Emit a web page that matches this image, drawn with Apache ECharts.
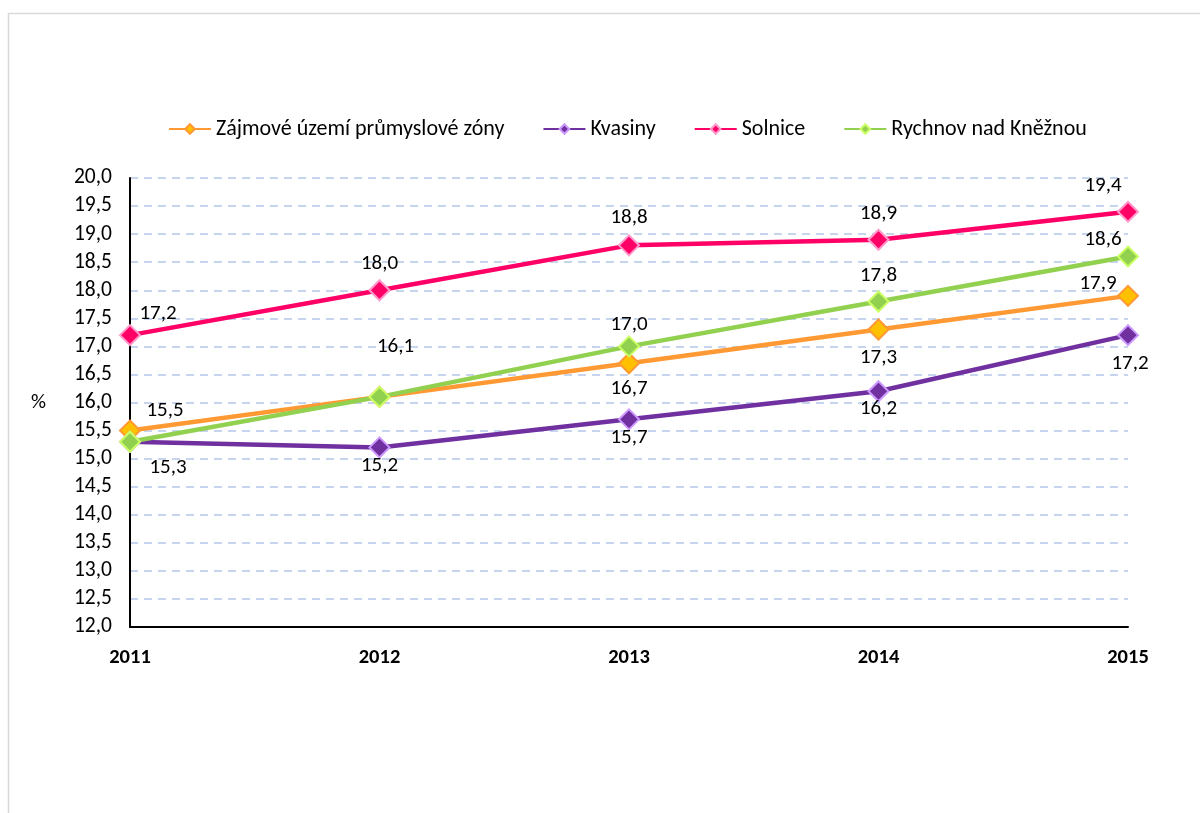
<!DOCTYPE html>
<html>
<head>
<meta charset="utf-8">
<script src="https://cdn.jsdelivr.net/npm/echarts@6/dist/echarts.min.js"></script>
<style>
html, body { margin: 0; padding: 0; background: #fff; }
#chart { width: 1200px; height: 813px; }
</style>
</head>
<body>
<div id="chart"></div>
<script>
let years = ['2011', '2012', '2013', '2014', '2015']
let zona = [15.5, 16.1, 16.7, 17.3, 17.9]
let kvasiny = [15.3, 15.2, 15.7, 16.2, 17.2]
let solnice = [17.2, 18.0, 18.8, 18.9, 19.4]
let rychnov = [15.3, 16.1, 17.0, 17.8, 18.6]

// label placement per point: [show, dx, dy]
let zonaLbl = [[true, 35, -20], [false], [true, 0, 26], [true, 0, 28], [true, -30, -12]]
let kvasinyLbl = [[true, 38, 26], [true, 0, 18], [true, 0, 18], [true, 0, 17], [true, 2, 29]]
let solniceLbl = [[true, 28, -21], [true, 0, -27], [true, 0, -28], [true, 0, -26], [true, -25, -26]]
let rychnovLbl = [[false], [true, 16, -50], [true, 0, -22], [true, 0, -26], [true, -25, -17]]

let font = 'Carlito, Lato, "Liberation Sans", sans-serif'

function makeData(vals, lbls) {
    return vals.map(function (v, i) {
        let l = lbls[i]
        return {
            value: v,
            label: l[0] ? {show: true, position: 'inside', offset: [l[1], l[2]]} : {show: false}
        }
    })
}

function makeSeries(name, vals, lbls, line, fill, border) {
    return {
        name: name,
        type: 'line',
        data: makeData(vals, lbls),
        symbol: 'diamond',
        symbolSize: 20,
        lineStyle: {color: line, width: 4.5},
        itemStyle: {color: fill, borderColor: border, borderWidth: 2},
        label: {
            formatter: function (p) { return p.value.toFixed(1).replace('.', ',') },
            color: '#000',
            fontSize: 21,
            fontFamily: font
        },
        emphasis: {disabled: true}
    }
}

let chart = echarts.init(document.getElementById('chart'))
let option = {
    animation: false,
    graphic: [{
        type: 'rect',
        shape: {x: 8.5, y: 13.5, width: 1200, height: 820},
        style: {fill: 'none', stroke: '#d9d9d9', lineWidth: 1.5},
        silent: true
    }],
    legend: {
        top: 113,
        left: 163,
        itemWidth: 42,
        itemHeight: 12,
        itemGap: 38,
        textStyle: {color: '#000', fontSize: 22, fontFamily: font},
        data: ['Zájmové území průmyslové zóny', 'Kvasiny', 'Solnice', 'Rychnov nad Kněžnou']
    },
    grid: {left: 130, right: 72, top: 178, bottom: 186},
    xAxis: {
        type: 'category',
        data: years,
        boundaryGap: false,
        axisLine: {lineStyle: {color: '#000', width: 2}},
        axisTick: {show: false},
        axisLabel: {color: '#000', fontSize: 20.5, fontWeight: 'bold', fontFamily: font, margin: 20}
    },
    yAxis: {
        type: 'value',
        min: 12,
        max: 20,
        interval: 0.5,
        name: '%',
        nameLocation: 'middle',
        nameRotate: 0,
        nameGap: 84,
        nameTextStyle: {color: '#000', fontSize: 21, fontFamily: font},
        axisLine: {show: true, lineStyle: {color: '#000', width: 2}},
        axisTick: {show: false},
        axisLabel: {
            color: '#000', fontSize: 21.5, fontFamily: font, margin: 18,
            formatter: function (v) { return v.toFixed(1).replace('.', ',') }
        },
        splitLine: {lineStyle: {color: '#b4c7e7', type: [8, 6], width: 1.5}}
    },
    series: [
        makeSeries('Zájmové území průmyslové zóny', zona, zonaLbl, '#ff9933', '#ffc000', '#ff9933'),
        makeSeries('Kvasiny', kvasiny, kvasinyLbl, '#7030a0', '#7030a0', '#cc99ff'),
        makeSeries('Solnice', solnice, solniceLbl, '#ff0066', '#ff0066', '#ff99cc'),
        makeSeries('Rychnov nad Kněžnou', rychnov, rychnovLbl, '#92d050', '#92d050', '#ccff66')
    ]
}
chart.setOption(option)
</script>
</body>
</html>
